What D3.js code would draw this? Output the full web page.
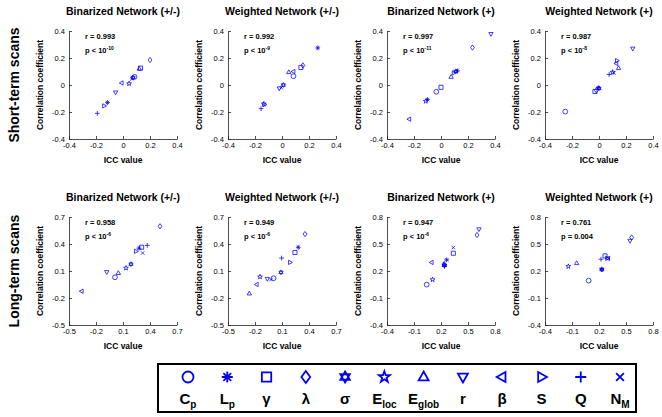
<!DOCTYPE html>
<html><head><meta charset="utf-8">
<script src="https://cdn.jsdelivr.net/npm/d3@7"></script>
<style>body{margin:0;background:#fff}svg{display:block}text{font-family:"Liberation Sans",Arial,sans-serif}</style>
</head><body>
<svg id="c" width="662" height="417"></svg>
<script>
// ---- data ----
const metrics = ["Cp","Lp","γ","λ","σ","Eloc","Eglob","r","β","S","Q","NM"];
const markers = ["o","*","s","d","h","p","^","v","<",">","+","x"];
const legendMain = ["C","L","γ","λ","σ","E","E","r","β","S","Q","N"];
const legendSub  = ["p","p","","","","loc","glob","","","","","M"];

const rowLabels = ["Short-term scans","Long-term scans"];
const colTitles = ["Binarized Network (+/-)","Weighted Network (+/-)","Binarized Network (+)","Weighted Network (+)"];

const ticksShort = [-0.4,-0.2,0,0.2,0.4];
const ticksLongA = [-0.5,-0.2,0.1,0.4,0.7];
const ticksLongB = [-0.4,-0.1,0.2,0.5,0.8];

// ICC (x) and correlation coefficient (y) per metric, order of `metrics`
const stBinPM_icc  = [0.085,-0.115,0.13,0.20,0.075,0.045,0.12,-0.055,-0.01,-0.14,-0.19,0.065];
const stBinPM_corr = [0.06,-0.13,0.125,0.185,0.055,0.01,0.12,-0.055,0.015,-0.155,-0.21,0.045];
const stWtPM_icc   = [0.085,0.265,0.14,0.155,0.01,-0.135,0.05,-0.02,0.085,-0.13,-0.155,-0.005];
const stWtPM_corr  = [0.065,0.275,0.13,0.145,0.0,-0.14,0.095,-0.025,0.10,-0.145,-0.175,-0.02];
const stBinP_icc   = [-0.035,-0.10,0.0,0.233,0.11,-0.113,0.075,0.37,-0.235,0.094,0.122,0.12];
const stBinP_corr  = [-0.05,-0.108,-0.017,0.277,0.10,-0.12,0.06,0.378,-0.253,0.09,0.105,0.108];
const stWtP_icc    = [-0.25,-0.005,-0.03,-0.02,0.0,0.10,0.145,0.25,0.128,0.133,0.075,0.11];
const stWtP_corr   = [-0.197,-0.02,-0.048,-0.04,-0.025,0.095,0.125,0.27,0.16,0.18,0.078,0.09];
const ltBinPM_icc  = [0.011,0.278,0.307,0.511,0.189,0.133,0.048,-0.081,-0.359,0.244,0.37,0.318];
const ltBinPM_corr = [0.03,0.353,0.364,0.597,0.176,0.133,0.077,0.088,-0.125,0.319,0.385,0.30];
const ltWtPM_icc   = [0.007,0.281,0.244,0.356,0.089,-0.144,-0.263,-0.063,-0.181,0.189,0.096,-0.022];
const ltWtPM_corr  = [0.02,0.363,0.305,0.51,0.085,0.035,-0.15,0.013,-0.05,0.196,0.244,0.005];
const ltBinP_icc   = [0.041,0.263,0.337,0.60,0.237,0.107,0.235,0.622,0.096,0.24,0.24,0.337];
const ltBinP_corr  = [0.049,0.324,0.397,0.60,0.262,0.104,0.28,0.664,0.295,0.27,0.25,0.46];
const ltWtP_icc    = [0.085,0.23,0.267,0.563,0.232,-0.141,-0.048,0.544,0.30,0.29,0.222,0.305];
const ltWtP_corr   = [0.093,0.221,0.368,0.573,0.215,0.251,0.287,0.536,0.34,0.342,0.331,0.34];

const rValues = ["0.993","0.992","0.997","0.987","0.958","0.949","0.947","0.761"];
const pExp    = ["-10","-9","-11","-8","-6","-6","-6",null];
const pPlain  = [null,null,null,null,null,null,null,"0.004"];

// ---- layout ----
const svg = d3.select("#c");
const blue = "#0000ff";
const colX = [69,228,387,545], rowY = [31,217], W = 108, H = 108;

const panels = [
  {row:0,col:0,x:stBinPM_icc,y:stBinPM_corr,xt:ticksShort,yt:ticksShort},
  {row:0,col:1,x:stWtPM_icc,y:stWtPM_corr,xt:ticksShort,yt:ticksShort},
  {row:0,col:2,x:stBinP_icc,y:stBinP_corr,xt:ticksShort,yt:ticksShort},
  {row:0,col:3,x:stWtP_icc,y:stWtP_corr,xt:ticksShort,yt:ticksShort},
  {row:1,col:0,x:ltBinPM_icc,y:ltBinPM_corr,xt:ticksLongA,yt:ticksLongA},
  {row:1,col:1,x:ltWtPM_icc,y:ltWtPM_corr,xt:ticksLongA,yt:ticksLongA},
  {row:1,col:2,x:ltBinP_icc,y:ltBinP_corr,xt:ticksLongB,yt:ticksLongB},
  {row:1,col:3,x:ltWtP_icc,y:ltWtP_corr,xt:ticksLongB,yt:ticksLongB},
];

function sym(type, r){
  const a=r, k=r*0.7071;
  switch(type){
    case "o": return `M${r},0A${r},${r} 0 1,1 ${-r},0A${r},${r} 0 1,1 ${r},0Z`;
    case "*": return `M${-a},0L${a},0M0,${-a}L0,${a}M${-k},${-k}L${k},${k}M${-k},${k}L${k},${-k}`;
    case "s": {const s=r*0.85; return `M${-s},${-s}H${s}V${s}H${-s}Z`;}
    case "d": return `M0,${-r*1.1}L${r*0.8},0L0,${r*1.1}L${-r*0.8},0Z`;
    case "h": { let p1=[],p2=[]; for(let i=0;i<3;i++){const t1=-Math.PI/2+i*2*Math.PI/3,t2=Math.PI/2+i*2*Math.PI/3; p1.push([r*Math.cos(t1),r*Math.sin(t1)]); p2.push([r*Math.cos(t2),r*Math.sin(t2)]);}
      return "M"+p1.map(p=>p.join(",")).join("L")+"Z"+"M"+p2.map(p=>p.join(",")).join("L")+"Z"; }
    case "p": { let pts=[]; for(let i=0;i<10;i++){const t=-Math.PI/2+i*Math.PI/5, rr=i%2?r*0.42:r*1.05; pts.push([rr*Math.cos(t),rr*Math.sin(t)]);} return "M"+pts.map(p=>p.join(",")).join("L")+"Z"; }
    case "^": return `M0,${-r}L${r*0.9},${r*0.6}L${-r*0.9},${r*0.6}Z`;
    case "v": return `M0,${r}L${r*0.9},${-r*0.6}L${-r*0.9},${-r*0.6}Z`;
    case "<": return `M${-r},0L${r*0.6},${-r*0.9}L${r*0.6},${r*0.9}Z`;
    case ">": return `M${r},0L${-r*0.6},${-r*0.9}L${-r*0.6},${r*0.9}Z`;
    case "+": return `M${-r},0H${r}M0,${-r}V${r}`;
    case "x": return `M${-k},${-k}L${k},${k}M${-k},${k}L${k},${-k}`;
  }
}

// row labels
rowLabels.forEach((t,i)=>{
  svg.append("text").attr("transform",`translate(14,${rowY[i]+H/2}) rotate(-90)`)
    .attr("text-anchor","middle").attr("dy","0.35em").attr("font-size",14).attr("font-weight","bold").text(t);
});

panels.forEach((P,pi)=>{
  const x0=colX[P.col], y0=rowY[P.row];
  const xs=d3.scaleLinear().domain([P.xt[0],P.xt[4]]).range([x0,x0+W]);
  const ys=d3.scaleLinear().domain([P.yt[0],P.yt[4]]).range([y0+H,y0]);
  const fmt=v=>v===0?"0":String(v);
  const gx=svg.append("g").attr("transform",`translate(0,${y0+H})`)
    .call(d3.axisBottom(xs).tickValues(P.xt).tickFormat(fmt).tickSizeInner(-3).tickSizeOuter(0).tickPadding(4));
  const gy=svg.append("g").attr("transform",`translate(${x0},0)`)
    .call(d3.axisLeft(ys).tickValues(P.yt).tickFormat(fmt).tickSizeInner(-3).tickSizeOuter(0).tickPadding(4));
  [gx,gy].forEach(g=>{g.selectAll("text").attr("font-size",7.5).attr("font-family","Liberation Sans, Arial, sans-serif").attr("fill","#000");
    g.selectAll("line,path").attr("stroke","#222").attr("stroke-width",0.8); g.attr("font-family",null);});
  // titles & labels
  svg.append("text").attr("x",x0+W/2).attr("y",y0-16).attr("text-anchor","middle")
    .attr("font-size",10.5).attr("font-weight","bold").text(colTitles[P.col]);
  svg.append("text").attr("x",x0+W/2).attr("y",y0+H+24).attr("text-anchor","middle")
    .attr("font-size",8.5).attr("font-weight","bold").text("ICC value");
  svg.append("text").attr("transform",`translate(${x0-29},${y0+H/2}) rotate(-90)`).attr("text-anchor","middle")
    .attr("dy","0.35em").attr("font-size",8.5).attr("font-weight","bold").text("Correlation coefficient");
  // stats
  svg.append("text").attr("x",x0+16).attr("y",y0+7.5).attr("font-size",7.5).attr("font-weight","bold").text("r = "+rValues[pi]);
  const pt=svg.append("text").attr("x",x0+16).attr("y",y0+22).attr("font-size",7.5).attr("font-weight","bold");
  if(pExp[pi]){ pt.append("tspan").text("p < 10"); pt.append("tspan").attr("font-size",5).attr("dy",-3).text(pExp[pi]); }
  else pt.text("p = "+pPlain[pi]);
  // points
  metrics.forEach((m,i)=>{
    svg.append("path").attr("d",sym(markers[i],2.4))
      .attr("transform",`translate(${xs(P.x[i])},${ys(P.y[i])})`)
      .attr("fill","none").attr("stroke",blue).attr("stroke-width",0.75);
  });
});

// legend
const LB={x:158,y:364,w:478,h:48};
svg.append("rect").attr("x",LB.x).attr("y",LB.y).attr("width",LB.w).attr("height",LB.h)
  .attr("fill","none").attr("stroke","#000").attr("stroke-width",2);
const lx=d3.scalePoint().domain(metrics).range([LB.x+30,LB.x+LB.w-16]);
metrics.forEach((m,i)=>{
  svg.append("path").attr("d",sym(markers[i],5.5)).attr("transform",`translate(${lx(m)},${LB.y+13})`)
    .attr("fill","none").attr("stroke",blue).attr("stroke-width",1.8);
  const t=svg.append("text").attr("x",lx(m)).attr("y",LB.y+40).attr("text-anchor","middle").attr("font-weight","bold").attr("font-size",15);
  t.append("tspan").text(legendMain[i]);
  if(legendSub[i]) t.append("tspan").attr("font-size",10).attr("dy",4).text(legendSub[i]);
});
</script>
</body></html>
